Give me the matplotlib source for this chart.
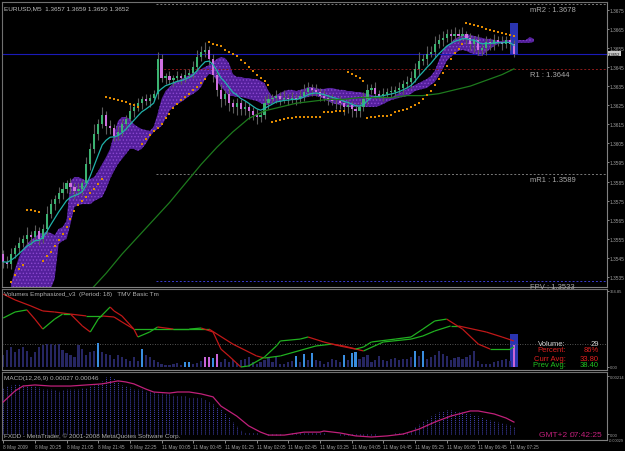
import numpy as np
import matplotlib
matplotlib.use('Agg')
import matplotlib.pyplot as plt
from matplotlib import font_manager
from matplotlib.collections import LineCollection
from matplotlib.patches import Rectangle
import matplotlib.transforms as mtransforms

_names = {f.name for f in font_manager.fontManager.ttflist}
NARROW = 'Liberation Sans Narrow' if 'Liberation Sans Narrow' in _names else 'Liberation Sans'
plt.rcParams['font.family'] = [NARROW, 'DejaVu Sans']
plt.rcParams['hatch.linewidth'] = 0.6
SMALL = 4.0 if NARROW == 'Liberation Sans Narrow' else 3.4
TINY = SMALL - 0.4

# ---------------- data ----------------
title_main = 'EURUSD,M5  1.3657 1.3659 1.3650 1.3652'
first_open = 1.3547
closes = [1.3543,1.3542,1.3547,1.3550,1.3553,1.3555,1.3557,1.3556,1.3559,1.3555,
          1.3560,1.3568,1.3573,1.3576,1.3579,1.3581,1.3584,1.3582,1.3580,1.3581,
          1.3584,1.3594,1.3602,1.3610,1.3615,1.3620,1.3614,1.3613,1.3609,1.3611,
          1.3615,1.3618,1.3622,1.3624,1.3626,1.3628,1.3627,1.3629,1.3631,1.3649,
          1.3639,1.3640,1.3638,1.3639,1.3640,1.3639,1.3641,1.3642,1.3645,1.3650,
          1.3653,1.3654,1.3649,1.3641,1.3633,1.3628,1.3631,1.3626,1.3624,1.3626,
          1.3623,1.3624,1.3622,1.3620,1.3619,1.3620,1.3626,1.3628,1.3629,1.3630,
          1.3628,1.3629,1.3628,1.3629,1.3628,1.3630,1.3632,1.3634,1.3633,1.3632,
          1.3630,1.3629,1.3628,1.3627,1.3627,1.3626,1.3624,1.3625,1.3623,1.3622,
          1.3624,1.3628,1.3633,1.3634,1.3631,1.3630,1.3631,1.3632,1.3632,1.3633,
          1.3634,1.3636,1.3637,1.3639,1.3644,1.3648,1.3649,1.3652,1.3653,1.3657,
          1.3659,1.3660,1.3662,1.3661,1.3662,1.3661,1.3662,1.3660,1.3657,1.3659,
          1.3654,1.3655,1.3658,1.3657,1.3659,1.3658,1.3657,1.3659,1.3657,1.3652]
wick_up_pips = [2,3,3,2,3,2,4,2,3,2, 3,4,3,2,3,4,2,3,2,3, 2,4,3,5,3,4,2,3,2,3,
                3,2,4,2,3,2,3,2,2,4, 3,2,3,2,3,2,3,2,3,4, 3,4,2,3,2,3,2,3,2,3,
                2,3,2,2,3,2,4,3,2,3, 2,4,2,3,2,3,4,3,2,3, 2,3,2,3,2,3,2,3,2,3,
                3,4,3,2,3,2,3,2,3,2, 3,2,3,4,3,5,3,4,3,4, 3,4,3,3,4,3,4,2,3,2,
                3,2,3,2,3,2,3,2,1,2]
wick_dn_pips = [3,2,3,2,3,2,3,4,2,3, 2,3,2,3,2,3,2,3,4,2, 3,2,3,2,3,2,4,3,3,2,
                2,3,2,3,2,3,2,3,2,3, 2,3,2,3,2,3,2,2,3,2, 2,3,3,4,3,4,3,4,3,4,
                3,3,4,3,4,3,2,3,2,3, 3,2,3,2,3,2,3,2,3,2, 3,2,3,2,4,3,4,3,4,3,
                3,2,3,2,3,2,3,2,3,2, 2,3,2,3,2,3,2,3,2,3, 2,3,2,3,2,3,2,3,3,4,
                3,3,4,3,3,2,3,2,3,2]

band_start = 2
band_hi = [1.35314,1.35392,1.35455,1.35497,1.35523,1.35544,1.35560,1.35576,1.35581,1.35586,
           1.35581,1.35570,1.35602,1.35612,1.35644,1.35853,1.35874,1.35874,1.35864,1.35853,
           1.35864,1.35874,1.35905,1.35942,1.35979,1.36021,1.36099,1.36167,1.36188,1.36188,
           1.36178,1.36151,1.36136,1.36125,1.36120,1.36115,1.36136,1.36204,1.36282,1.36324,
           1.36345,1.36366,1.36377,1.36387,1.36398,1.36408,1.36419,1.36429,1.36439,1.36450,
           1.36460,1.36476,1.36492,1.36502,1.36497,1.36471,1.36413,1.36398,1.36398,1.36392,
           1.36392,1.36387,1.36387,1.36377,1.36366,1.36324,1.36293,1.36303,1.36314,1.36324,
           1.36330,1.36330,1.36324,1.36330,1.36335,1.36345,1.36345,1.36340,1.36335,1.36335,
           1.36340,1.36340,1.36335,1.36330,1.36330,1.36324,1.36324,1.36319,1.36319,1.36314,
           1.36309,1.36303,1.36298,1.36293,1.36293,1.36293,1.36288,1.36303,1.36314,1.36324,
           1.36335,1.36345,1.36356,1.36366,1.36377,1.36387,1.36403,1.36429,1.36481,1.36534,
           1.36560,1.36576,1.36597,1.36607,1.36618,1.36623,1.36618,1.36612,1.36607,1.36602,
           1.36597,1.36597,1.36591,1.36586,1.36586,1.36591,1.36591,1.36591,1.36591,1.36591,
           1.36591,1.36607,1.36597]
band_lo = [1.35288,1.35288,1.35288,1.35288,1.35288,1.35288,1.35288,1.35288,1.35288,1.35288,
           1.35288,1.35340,1.35523,1.35539,1.35549,1.35628,1.35717,1.35727,1.35732,1.35732,
           1.35732,1.35748,1.35759,1.35769,1.35811,1.35864,1.35905,1.35942,1.35968,1.35994,
           1.36021,1.36021,1.36010,1.36021,1.36047,1.36083,1.36110,1.36125,1.36141,1.36178,
           1.36220,1.36241,1.36256,1.36267,1.36282,1.36298,1.36309,1.36324,1.36345,1.36387,
           1.36413,1.36408,1.36377,1.36345,1.36324,1.36298,1.36298,1.36293,1.36293,1.36288,
           1.36282,1.36277,1.36272,1.36261,1.36251,1.36251,1.36261,1.36267,1.36272,1.36277,
           1.36282,1.36282,1.36277,1.36282,1.36288,1.36293,1.36298,1.36298,1.36293,1.36282,
           1.36272,1.36261,1.36256,1.36251,1.36246,1.36241,1.36241,1.36241,1.36241,1.36241,
           1.36241,1.36241,1.36241,1.36246,1.36256,1.36267,1.36277,1.36282,1.36288,1.36293,
           1.36298,1.36309,1.36324,1.36330,1.36335,1.36340,1.36356,1.36371,1.36403,1.36439,
           1.36481,1.36502,1.36518,1.36534,1.36539,1.36534,1.36523,1.36518,1.36508,1.36508,
           1.36528,1.36544,1.36560,1.36570,1.36576,1.36576,1.36576,1.36576,1.36576,1.36576,
           1.36576,1.36576,1.36581]

slow_ma_bars = [22,26,30,34,38,42,46,50,54,58,62,66,70,74,78,82,86,90,94,98,102,106,110,114,118,122,126,129]
slow_ma_vals = [1.3528,1.3537,1.3547,1.3556,1.3565,1.3574,1.3584,1.3594,1.3603,1.3611,1.3618,1.3622,1.3624,1.3626,
                1.3627,1.3628,1.3628,1.3629,1.3629,1.3629,1.3630,1.3630,1.3631,1.3633,1.3635,1.3638,1.3641,1.3644]

sar = [1.35261,1.35288,1.35324,1.35361,1.35392,1.35413,1.35701,1.35701,1.35696,1.35691,
       1.35434,1.35460,1.35481,1.35513,1.35544,1.35576,1.35612,1.35654,1.35696,1.35727,
       1.35748,1.35769,1.35790,1.35811,1.35837,1.35864,1.36293,1.36288,1.36282,1.36277,
       1.36272,1.36267,1.36256,1.36251,1.36241,1.36047,1.36073,1.36094,1.36115,1.36130,
       1.36151,1.36183,1.36204,1.36235,1.36256,1.36277,1.36293,1.36309,1.36330,1.36345,
       1.36366,1.36387,1.36581,1.36570,1.36565,1.36560,1.36539,1.36528,1.36518,1.36508,
       1.36487,1.36471,1.36450,1.36429,1.36408,1.36392,1.36377,1.36356,1.36162,1.36167,
       1.36172,1.36178,1.36183,1.36183,1.36188,1.36188,1.36188,1.36188,1.36188,1.36188,
       1.36188,1.36214,1.36214,1.36214,1.36220,1.36220,1.36220,1.36424,1.36413,1.36403,
       1.36392,1.36377,1.36183,1.36188,1.36188,1.36193,1.36193,1.36193,1.36199,1.36214,
       1.36220,1.36225,1.36230,1.36241,1.36251,1.36261,1.36282,1.36303,1.36324,1.36356,
       1.36387,1.36419,1.36455,1.36492,1.36523,1.36544,1.36570,1.36680,1.36675,1.36670,
       1.36665,1.36659,1.36649,1.36644,1.36638,1.36633,1.36628,1.36623,1.36618,1.36612]

price_ticks = [1.3675,1.3665,1.3655,1.3645,1.3635,1.3625,1.3615,1.3605,1.3595,1.3585,1.3575,1.3565,1.3555,1.3545,1.3535]
bid_price = 1.3652
pivot_names = ['mR2', 'R1', 'mR1', 'FPV']
pivot_vals = [1.3678, 1.3644, 1.3589, 1.3533]
day_start_bar = 39
cur_box = (1.3652, 1.3668)

volumes = [58,82,96,72,86,96,77,48,72,96, 106,110,110,106,110,82,67,58,48,106,
           86,58,72,77,115,72,62,58,38,58, 48,38,29,48,29,86,58,48,34,24,
           14,10,10,14,19,10,24,24,14,19, 29,48,48,43,62,24,38,24,34,19,
           34,38,48,24,14,24,34,48,24,48, 14,14,24,29,53,24,62,34,67,34,
           29,14,24,38,34,24,58,34,67,72, 38,48,58,24,34,53,34,29,38,43,
           34,38,38,48,77,53,77,38,48,58, 77,62,53,34,43,48,38,48,58,77,
           29,14,14,14,24,29,34,38,29,106]
vol_blue_bars = [24,35,46,47,53,74,76,78,86,88,89,104,106]
vol_pink_bars = [51,52,54,129]
vol_fast_bars = [0,3,6,8,10,13,15,17,20,22,24,27,28,30,33,34,37,39,43,47,50,53,55,57,60,62,66,69,70,75,77,81,85,89,91,93,99,103,106,109,112,116,120,123,128,129]
vol_fast_vals = [235,264,274,230,182,230,254,254,197,168,230,288,269,245,182,144,168,192,182,182,187,168,86,53,0,5,48,101,125,134,144,120,101,86,96,120,134,144,182,221,230,182,110,86,86,96]
vol_slow_bars = [0,3,7,10,13,17,21,25,28,30,33,38,47,52,58,64,66,70,79,83,86,91,96,103,106,109,113,115,122,126,129]
vol_slow_vals = [350,322,293,269,264,254,245,245,240,216,182,182,182,182,110,53,43,53,101,110,101,77,120,134,149,173,197,197,168,144,125]
vol_level = 110
vol_info_labels = ['Volume:', 'Percent:', 'Curr Avg:', 'Prev Avg:']
vol_info_values = ['29', '86%', '33.80', '38.40']
vol_box_top = 158

macd_hist = [0.00170,0.00177,0.00181,0.00185,0.00185,0.00181,0.00177,0.00177,0.00177,0.00173,
             0.00166,0.00166,0.00166,0.00162,0.00159,0.00162,0.00166,0.00166,0.00166,0.00166,
             0.00170,0.00170,0.00177,0.00181,0.00185,0.00196,0.00210,0.00214,0.00207,0.00196,
             0.00181,0.00177,0.00173,0.00166,0.00166,0.00166,0.00159,0.00159,0.00155,0.00151,
             0.00151,0.00148,0.00148,0.00144,0.00140,0.00140,0.00140,0.00137,0.00137,0.00137,
             0.00133,0.00129,0.00118,0.00111,0.00100,0.00092,0.00077,0.00063,0.00044,0.00030,
             0.00015,0.00007,0.00004,0.00002,0.00002,0.00001,-0.00001,-0.00002,-0.00003,-0.00002,
             -0.00002,-0.00001,0.00001,0.00002,0.00003,0.00004,0.00004,0.00005,0.00004,0.00003,
             0.00003,0.00002,0.00001,0.00000,-0.00001,-0.00002,-0.00003,-0.00004,-0.00005,-0.00006,
             -0.00006,-0.00005,-0.00003,-0.00002,-0.00002,-0.00001,-0.00001,0.00000,0.00001,0.00002,
             0.00003,0.00005,0.00008,0.00011,0.00026,0.00037,0.00048,0.00055,0.00066,0.00074,
             0.00081,0.00085,0.00088,0.00088,0.00085,0.00081,0.00081,0.00077,0.00074,0.00070,
             0.00066,0.00063,0.00055,0.00052,0.00048,0.00044,0.00041,0.00037,0.00033,0.00027]
macd_sig_bars = [0,3,5,8,12,17,21,25,29,31,33,36,38,42,44,47,50,53,55,59,62,65,67,71,76,80,81,85,89,93,97,101,105,109,113,118,120,124,127,129]
macd_sig_vals = [0.00118,0.00159,0.00177,0.00181,0.00177,0.00177,0.00181,0.00185,0.00196,0.00192,
                 0.00185,0.00166,0.00155,0.00151,0.00155,0.00155,0.00148,0.00137,0.00103,0.00066,
                 0.00030,0.00007,-0.00004,-0.00004,0.00007,0.00007,0.00011,0.00004,-0.00007,-0.00011,
                 -0.00007,0.0,0.00018,0.00044,0.00066,0.00085,0.00085,0.00074,0.00059,0.00044]

time_tick_bars = [0,8,16,24,32,40,48,56,64,72,80,88,96,104,112,120,128]
time_tick_labels = ['8 May 2009','8 May 20:25','8 May 21:05','8 May 21:45','8 May 22:25',
                    '11 May 00:05','11 May 00:45','11 May 01:25','11 May 02:05','11 May 02:45',
                    '11 May 03:25','11 May 04:05','11 May 04:45','11 May 05:25','11 May 06:05',
                    '11 May 06:45','11 May 07:25']

# ---------------- figure ----------------
W, H = 625, 452
fig = plt.figure(figsize=(W / 100, H / 100), dpi=100, facecolor='black')
RIGHT = 607

def rect(top, bottom):
    return [2 / W, 1 - bottom / H, (RIGHT - 2) / W, (bottom - top) / H]

ax = fig.add_axes(rect(3, 288))
axv = fig.add_axes(rect(290, 371))
axm = fig.add_axes(rect(373, 441))
XL = (-0.3, 152.5)
GRAY = '#a0a0a0'
for a in (ax, axv, axm):
    a.set_facecolor('black')
    a.set_xlim(*XL)
    for s in ('top', 'left'):
        a.spines[s].set_color('#707070')
        a.spines[s].set_linestyle((0, (1, 1)))
        a.spines[s].set_linewidth(0.8)
    for s in ('bottom', 'right'):
        a.spines[s].set_color('#808080')
        a.spines[s].set_linewidth(0.8)
    a.yaxis.tick_right()
    a.tick_params(axis='y', labelsize=SMALL, colors=GRAY, length=1.2, width=0.6, pad=0.6)
    a.tick_params(axis='x', bottom=False, labelbottom=False)

x = np.arange(len(closes))
c = np.array(closes)
o = np.r_[first_open, c[:-1]]
hi = np.maximum(o, c) + np.array(wick_up_pips) * 1e-4
lo = np.minimum(o, c) - np.array(wick_dn_pips) * 1e-4

# ---- main panel ----
ax.set_ylim(1.35298, 1.36790)
ax.set_yticks(price_ticks)
ax.set_yticklabels([f'{v:.4f}' for v in price_ticks])

bx = np.arange(band_start, band_start + len(band_hi))
ax.fill_between(bx, band_lo, band_hi, facecolor='#54209c', edgecolor='#8a48d0',
                hatch='.....', linewidth=0, zorder=1)

ax.add_patch(Rectangle((x[-1] - 1.1, cur_box[0]), 2.2, cur_box[1] - cur_box[0],
                       facecolor='#2a34b0', edgecolor='none', zorder=1.5))

for v, nm in zip(pivot_vals, pivot_names):
    col = {'mR2': '#7a7a7a', 'R1': '#8b1a1a', 'mR1': '#7a7a7a', 'FPV': '#3a3ad0'}[nm]
    ax.hlines(v, day_start_bar - 0.5, XL[1], colors=col, linestyles=(0, (2, 2)), lw=0.7, zorder=1)
    ax.annotate(f'{nm} : {v:.4f}', xy=(133, v), xytext=(0, -1.5), textcoords='offset points',
                fontsize=5.5, color='#a8a8a8', va='top', ha='left', zorder=5)

ax.axhline(bid_price, color='#1a1ab8', lw=0.8, zorder=1.2)

ax.vlines(x, lo, hi, color='#5c5c5c', lw=0.8, zorder=2)
up = c >= o
body = np.maximum(np.abs(c - o), 3e-5)
ax.bar(x[up], body[up], bottom=o[up], width=0.55, color='#3cb371', zorder=3, linewidth=0)
ax.bar(x[~up], body[~up], bottom=c[~up], width=0.55, color='#d070e0', zorder=3, linewidth=0)

ema = [c[0]]
alpha = 2 / (7 + 1)
for p in c[1:]:
    ema.append(ema[-1] + alpha * (p - ema[-1]))
ax.plot(x, ema, color='#20b2aa', lw=0.9, zorder=4)
ax.plot(slow_ma_bars, slow_ma_vals, color='#1d7a1d', lw=0.9, zorder=4)
ax.scatter(x, sar, s=1.6, marker='s', color='#e08a00', linewidths=0, zorder=5)

ax.text(0.004, 0.988, title_main, transform=ax.transAxes, fontsize=4.6, color='#c0c0c0', va='top', ha='left')
tr = mtransforms.blended_transform_factory(ax.transAxes, ax.transData)
ax.text(1.002, bid_price, f'{bid_price:.4f}', transform=tr, fontsize=TINY, color='black', va='center', ha='left',
        bbox=dict(boxstyle='square,pad=0.12', fc='#c8c8c8', ec='none'), zorder=6, clip_on=False)

# ---- volume panel ----
axv.set_ylim(-14.4, 374.4)
axv.set_yticks([364.85, 0])
axv.set_yticklabels(['364.85', '0.00'], fontsize=TINY)
vcol = ['#262662'] * len(volumes)
for b in vol_blue_bars:
    vcol[b] = '#3a8ee0'
for b in vol_pink_bars:
    vcol[b] = '#c864d8'
axv.add_patch(Rectangle((x[-1] - 1.1, 0), 2.2, vol_box_top, facecolor='#2a34b0', edgecolor='none', zorder=1))
axv.bar(x, volumes, width=0.55, color=vcol, linewidth=0, zorder=2)
axv.axhline(vol_level, color='#707070', lw=0.6, ls=(0, (1, 2)), zorder=1)

def slope_line(axx, bars, vals):
    pts = np.column_stack([bars, vals])
    segs = np.stack([pts[:-1], pts[1:]], axis=1)
    cols = ['#20b020' if vals[i + 1] >= vals[i] else '#c01818' for i in range(len(vals) - 1)]
    axx.add_collection(LineCollection(segs, colors=cols, linewidths=0.9, zorder=3))

slope_line(axv, vol_slow_bars, vol_slow_vals)
slope_line(axv, vol_fast_bars, vol_fast_vals)

axv.text(0.004, 0.97, 'Volumes Emphasized_v3  (Period: 18)   TMV Basic Tm', transform=axv.transAxes,
         fontsize=4.6, color='#b0b0b0', va='top', ha='left')
info_cols = ['#d0d0d0', '#e02020', '#e02020', '#20c020']
for i, (lab, val) in enumerate(zip(vol_info_labels, vol_info_values)):
    yy = [0.333, 0.247, 0.148, 0.062][i]
    axv.text(0.932, yy, lab, transform=axv.transAxes, fontsize=5.5, color=info_cols[i], ha='right', va='center')
    axv.text(0.987, yy, val, transform=axv.transAxes, fontsize=5.5, color=info_cols[i], ha='right', va='center')

# ---- MACD panel ----
axm.set_ylim(-0.000221, 0.002288)
axm.set_yticks([0.00214, 0.0])
axm.set_yticklabels(['0.00214', '0.00'], fontsize=TINY)
axm.text(1.003, 0.0, '-0.00029', transform=axm.transAxes, fontsize=TINY - 0.3, color=GRAY, va='center', ha='left')
axm.vlines(x, 0, macd_hist, colors='#4444b8', lw=0.7, linestyles=(0, (1, 1)), zorder=2)
axm.plot(macd_sig_bars, macd_sig_vals, color='#c0207a', lw=0.9, zorder=3)
axm.text(0.004, 0.95, 'MACD(12,26,9) 0.00027 0.00046', transform=axm.transAxes, fontsize=4.6, color='#b0b0b0',
         va='top', ha='left')
axm.text(0.004, 0.07, 'FXDD - MetaTrader, \u00a9 2001-2008 MetaQuotes Software Corp.', transform=axm.transAxes,
         fontsize=4.6, color='#b0b0b0', va='center', ha='left')
axm.text(0.888, 0.08, 'GMT+2 :', transform=axm.transAxes, fontsize=6, color='#c0207a', va='center', ha='left')
axm.text(0.992, 0.08, '07:42:25', transform=axm.transAxes, fontsize=6, color='#c0207a', va='center', ha='right')

axm.set_xticks(time_tick_bars)
axm.set_xticklabels(time_tick_labels, ha='left')
axm.tick_params(axis='x', bottom=True, labelbottom=True, labelsize=SMALL, colors=GRAY, length=2, width=0.6, pad=1)

fig.savefig('out.png', dpi=100, facecolor='black')
